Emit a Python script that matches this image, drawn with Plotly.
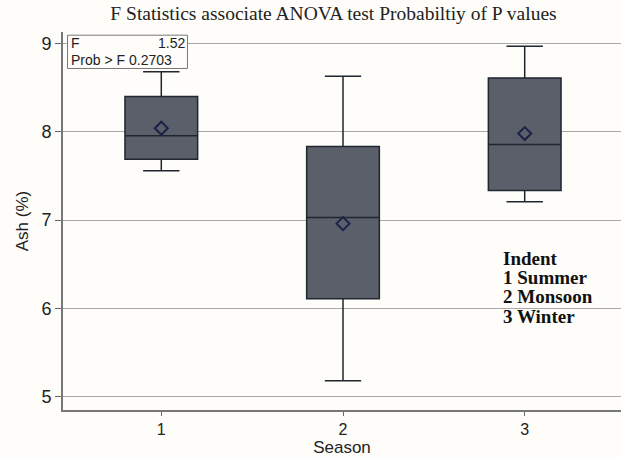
import plotly.graph_objects as go

seasons = [1, 2, 3]
q1 = [7.69, 6.11, 7.336]
median = [7.955, 7.03, 7.857]
q3 = [8.40, 7.834, 8.61]
lower = [7.56, 5.18, 7.207]
upper = [8.68, 8.63, 8.97]
means = [8.04, 6.96, 7.98]
y_ticks = [5, 6, 7, 8, 9]
f_stat = "1.52"
p_value = "0.2703"
legend_lines = ["Indent", "1 Summer", "2 Monsoon", "3 Winter"]
legend_y = [6.57, 6.35, 6.13, 5.91]

BG = "#fefdf9"
fig = go.Figure()
fig.add_trace(go.Box(
    x=seasons, q1=q1, median=median, q3=q3,
    lowerfence=lower, upperfence=upper,
    fillcolor="#5b5f6a", line=dict(color="#1f2630", width=1.5),
    width=0.40, whiskerwidth=0.5, boxpoints=False, showlegend=False,
))
fig.add_trace(go.Scatter(
    x=seasons, y=means, mode="markers",
    marker=dict(symbol="diamond-open", size=10, color="#1a2248", line=dict(width=2, color="#1a2248")),
    showlegend=False,
))

sans = "Liberation Sans, Arial, sans-serif"
serif = "Liberation Serif, Times New Roman, serif"

fig.update_layout(
    width=621, height=458, autosize=False, showlegend=False,
    margin=dict(l=63, r=0, t=32, b=48, pad=0),
    paper_bgcolor=BG, plot_bgcolor=BG,
    title=dict(text="F Statistics associate ANOVA test Probabiltiy of P values",
               font=dict(family=serif, size=19.5, color="#222222"),
               xref="container", x=0.537, xanchor="center",
               yref="container", y=0.972, yanchor="middle"),
    font=dict(family=sans, color="#222222"),
)
fig.update_xaxes(
    range=[0.459, 3.53], tickvals=seasons, ticktext=[str(s) for s in seasons],
    ticks="outside", ticklen=4, tickcolor="#666666", tickfont=dict(size=16),
    showgrid=False, zeroline=False, automargin=False,
    showline=True, linecolor="#777777", linewidth=2,
    title=dict(text="Season", font=dict(size=17), standoff=0),
)
fig.update_yaxes(
    range=[4.85, 9.13], tickvals=y_ticks,
    ticks="outside", ticklen=6, tickcolor="#666666", tickfont=dict(size=18),
    showgrid=True, gridcolor="#a8a8a8", gridwidth=1, zeroline=False, automargin=False,
    showline=True, linecolor="#777777", linewidth=2,
    title=dict(text="Ash (%)", font=dict(size=17), standoff=8),
)

# F statistic box
fig.add_shape(type="rect", xref="x", yref="y", x0=0.484, x1=1.144, y0=8.717, y1=9.094,
              line=dict(color="#777777", width=1), fillcolor=BG, layer="above")
fig.add_annotation(xref="x", yref="y", x=0.49, y=9.0, text="F", showarrow=False,
                   xanchor="left", yanchor="middle", font=dict(family=sans, size=14, color="#222222"))
fig.add_annotation(xref="x", yref="y", x=1.14, y=9.0, text=f_stat, showarrow=False,
                   xanchor="right", yanchor="middle", font=dict(family=sans, size=14, color="#222222"))
fig.add_annotation(xref="x", yref="y", x=0.49, y=8.81, text="Prob > F " + p_value, showarrow=False,
                   xanchor="left", yanchor="middle", font=dict(family=sans, size=14, color="#222222"))

for txt, yy in zip(legend_lines, legend_y):
    fig.add_annotation(xref="x", yref="y", x=2.87, y=yy,
                       text="<b>" + txt + "</b>", showarrow=False,
                       xanchor="left", yanchor="middle", align="left",
                       font=dict(family=serif, size=19, color="#111111"))

fig.write_html("out.html", config={"displayModeBar": False},
               post_script="document.body.style.margin='0';document.documentElement.style.overflow='hidden';")
